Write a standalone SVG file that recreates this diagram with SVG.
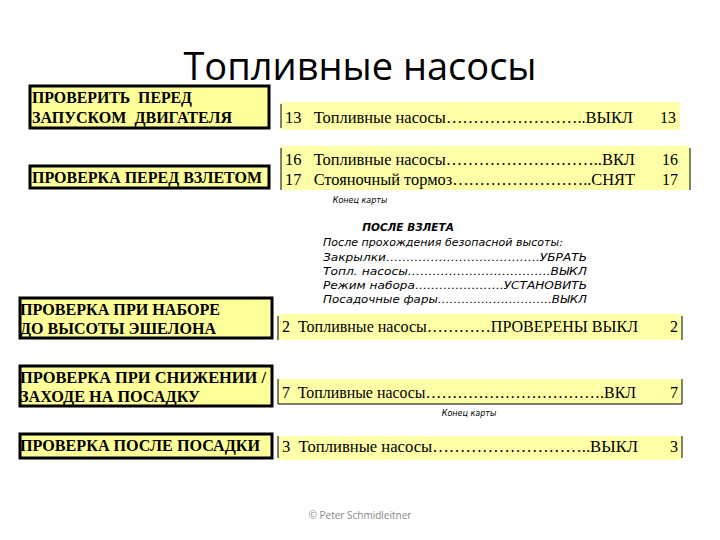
<svg xmlns="http://www.w3.org/2000/svg" width="720" height="540" viewBox="0 0 720 540">
<style>
text{white-space:pre}
.box{fill:#FFFF99;stroke:#000;stroke-width:3}
.row{fill:#FFFFA8}
.rl{stroke:#000;stroke-width:1}
.bh{font-family:"Liberation Serif","DejaVu Serif","Times New Roman",serif;font-weight:bold;font-size:16px;fill:#000}
.rt{font-family:"Liberation Serif","DejaVu Serif","Times New Roman",serif;font-size:16px;fill:#000}
.it{font-family:"DejaVu Sans",sans-serif;font-style:italic;font-size:10.5px;fill:#000}
.sm{font-family:"DejaVu Sans",sans-serif;font-style:italic;font-size:8px;fill:#000}
</style>
<rect width="720" height="540" fill="#fff"/>
<text x="360" y="80" text-anchor="middle" font-family="Open Sans, sans-serif" font-size="38" fill="#000">Топливные насосы</text>
<g id="n1"><rect class="box" x="30" y="86" width="239" height="42"/><text class="bh" x="32" y="103" textLength="160" lengthAdjust="spacingAndGlyphs">ПРОВЕРИТЬ  ПЕРЕД</text><text class="bh" x="32" y="123" textLength="200" lengthAdjust="spacingAndGlyphs">ЗАПУСКОМ  ДВИГАТЕЛЯ</text></g>
<g id="r1"><rect class="row" x="281" y="102" width="399" height="28"/><line class="rl" x1="281" y1="104" x2="281" y2="128"/><text class="rt" x="285" y="123" textLength="348" lengthAdjust="spacingAndGlyphs">13   Топливные насосы……………………..ВЫКЛ</text><text class="rt" x="676" y="123" text-anchor="end">13</text></g>
<g id="n2"><rect class="box" x="30" y="166" width="239" height="22"/><text class="bh" x="32" y="183" textLength="230" lengthAdjust="spacingAndGlyphs">ПРОВЕРКА ПЕРЕД ВЗЛЕТОМ</text></g>
<g id="r2"><rect class="row" x="281" y="146" width="409" height="44"/><line class="rl" x1="281" y1="148" x2="281" y2="190"/><line class="rl" x1="690" y1="148" x2="690" y2="190"/><text class="rt" x="285" y="165" textLength="350" lengthAdjust="spacingAndGlyphs">16   Топливные насосы………………………..ВКЛ</text><text class="rt" x="285" y="185" textLength="350" lengthAdjust="spacingAndGlyphs">17   Стояночный тормоз……………………..СНЯТ</text><text class="rt" x="678" y="165" text-anchor="end">16</text><text class="rt" x="678" y="185" text-anchor="end">17</text></g>
<text class="sm" x="360" y="203" text-anchor="middle">Конец карты</text>
<g id="after">
<text x="408" y="231" text-anchor="middle" font-family="DejaVu Sans,sans-serif" font-style="italic" font-weight="bold" font-size="10.5">ПОСЛЕ ВЗЛЕТА</text>
<text class="it" x="323" y="246" textLength="240" lengthAdjust="spacingAndGlyphs">После прохождения безопасной высоты:</text>
<text class="it" x="323" y="261" textLength="264" lengthAdjust="spacingAndGlyphs">Закрылки………………………………..УБРАТЬ</text>
<text class="it" x="323" y="275" textLength="264" lengthAdjust="spacingAndGlyphs">Топл. насосы……………………………..ВЫКЛ</text>
<text class="it" x="323" y="289" textLength="264" lengthAdjust="spacingAndGlyphs">Режим набора………………….УСТАНОВИТЬ</text>
<text class="it" x="323" y="303" textLength="264" lengthAdjust="spacingAndGlyphs">Посадочные фары………………………..ВЫКЛ</text>
</g>
<g id="n3"><rect class="box" x="20" y="298" width="252" height="40"/><text class="bh" x="20" y="315" textLength="200" lengthAdjust="spacingAndGlyphs">ПРОВЕРКА ПРИ НАБОРЕ</text><text class="bh" x="20" y="334" textLength="196" lengthAdjust="spacingAndGlyphs">ДО ВЫСОТЫ ЭШЕЛОНА</text></g>
<g id="r3"><rect class="row" x="278" y="314" width="404" height="26"/><line class="rl" x1="278" y1="316" x2="278" y2="340"/><line class="rl" x1="682" y1="316" x2="682" y2="340"/><text class="rt" x="282" y="332" textLength="356" lengthAdjust="spacingAndGlyphs">2  Топливные насосы…………ПРОВЕРЕНЫ ВЫКЛ</text><text class="rt" x="678" y="332" text-anchor="end">2</text></g>
<g id="n4"><rect class="box" x="20" y="366" width="252" height="40"/><text class="bh" x="20" y="383" textLength="246" lengthAdjust="spacingAndGlyphs">ПРОВЕРКА ПРИ СНИЖЕНИИ /</text><text class="bh" x="20" y="402" textLength="180" lengthAdjust="spacingAndGlyphs">ЗАХОДЕ НА ПОСАДКУ</text></g>
<g id="r4"><rect class="row" x="278" y="379" width="404" height="25"/><line class="rl" x1="278" y1="379" x2="278" y2="404"/><line class="rl" x1="682" y1="379" x2="682" y2="404"/><line class="rl" x1="278" y1="404" x2="682" y2="404"/><text class="rt" x="282" y="398" textLength="354" lengthAdjust="spacingAndGlyphs">7  Топливные насосы…………………………….ВКЛ</text><text class="rt" x="678" y="398" text-anchor="end">7</text></g>
<text class="sm" x="469" y="416" text-anchor="middle">Конец карты</text>
<g id="n5"><rect class="box" x="20" y="434" width="252" height="24"/><text class="bh" x="20" y="451" textLength="240" lengthAdjust="spacingAndGlyphs">ПРОВЕРКА ПОСЛЕ ПОСАДКИ</text></g>
<g id="r5"><rect class="row" x="278" y="436" width="404" height="24"/><line class="rl" x1="278" y1="436" x2="278" y2="458"/><line class="rl" x1="682" y1="436" x2="682" y2="458"/><text class="rt" x="282" y="452" textLength="356" lengthAdjust="spacingAndGlyphs">3  Топливные насосы………………………..ВЫКЛ</text><text class="rt" x="678" y="452" text-anchor="end">3</text></g>
<text x="360" y="519" text-anchor="middle" font-family="Open Sans,sans-serif" font-size="10" fill="#888">© Peter Schmidleitner</text>
</svg>
